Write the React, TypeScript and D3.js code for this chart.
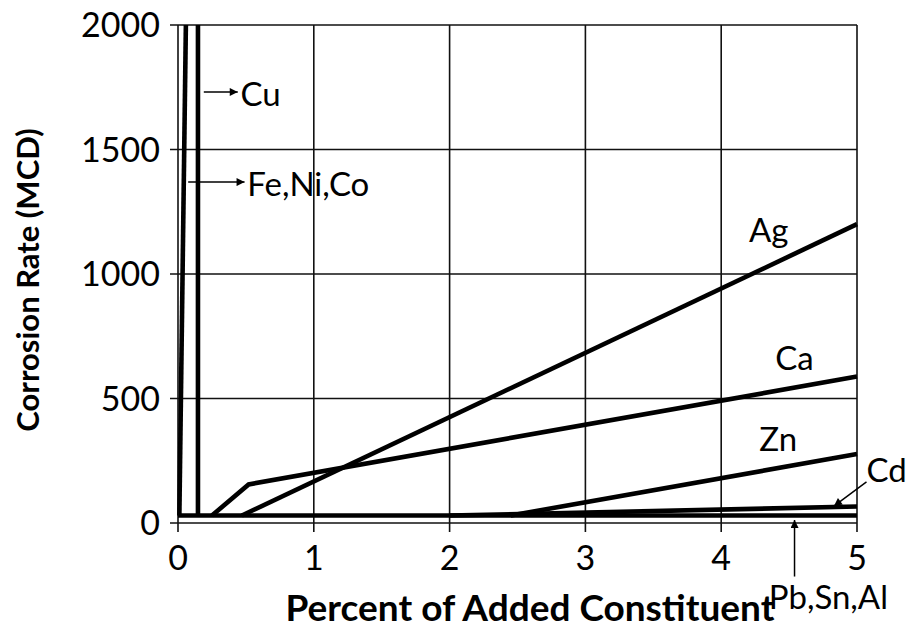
import React, { useEffect, useRef } from 'react';
import * as d3 from 'd3';

// percent added constituent vs corrosion rate (MCD)
const cuLine = [[0.147, 30], [0.147, 2000]];
const feLine = [[0.01, 30], [0.058, 2000]];
const agLine = [[0.47, 30], [5, 1200]];
const caLine = [[0.25, 30], [0.52, 155], [5, 588]];
const znLine = [[2.45, 30], [5, 277]];
const cdLine = [[2.0, 30], [5, 66]];
const pbLine = [[0, 30], [5, 30]];

const seriesList = [cuLine, feLine, agLine, caLine, znLine, cdLine, pbLine];

const xTicks = [0, 1, 2, 3, 4, 5];
const yTicks = [0, 500, 1000, 1500, 2000];

// label text with anchor point in data units
const labels = [
  { text: 'Cu', x: 0.46, y: 1722, anchor: 'start' },
  { text: 'Fe,Ni,Co', x: 0.51, y: 1362, anchor: 'start' },
  { text: 'Ag', x: 4.35, y: 1177, anchor: 'middle' },
  { text: 'Ca', x: 4.54, y: 663, anchor: 'middle' },
  { text: 'Zn', x: 4.42, y: 335, anchor: 'middle' },
  { text: 'Cd', x: 5.07, y: 213, anchor: 'start' },
  { text: 'Pb,Sn,Al', x: 4.35, y: -297, anchor: 'start' },
];

// arrows: from -> to, data units
const arrows = [
  { x1: 0.19, y1: 1731, x2: 0.44, y2: 1731 },
  { x1: 0.075, y1: 1369, x2: 0.49, y2: 1369 },
  { x1: 5.07, y1: 165, x2: 4.83, y2: 68 },
  { x1: 4.54, y1: -215, x2: 4.54, y2: 12 },
];

const App = () => {
  const ref = useRef<SVGSVGElement>(null);

  useEffect(() => {
    const svg = d3.select(ref.current);
    svg.selectAll('*').remove();

    const width = 911;
    const height = 630;
    const margin = { top: 25, right: 54, bottom: 107, left: 178 };
    const innerWidth = width - margin.left - margin.right;
    const innerHeight = height - margin.top - margin.bottom;
    const font = 'Lato, "Noto Sans", sans-serif';

    svg.attr('width', width).attr('height', height);

    svg.append('defs').append('marker')
      .attr('id', 'arrowhead')
      .attr('viewBox', '0 0 10 10')
      .attr('refX', 10)
      .attr('refY', 5)
      .attr('markerWidth', 12)
      .attr('markerHeight', 8)
      .attr('markerUnits', 'userSpaceOnUse')
      .attr('orient', 'auto')
      .append('path')
      .attr('d', 'M0,0 L10,5 L0,10 Z')
      .attr('fill', '#000');

    const chart = svg.append('g')
      .attr('transform', `translate(${margin.left},${margin.top})`);

    const x = d3.scaleLinear().domain([0, 5]).range([0, innerWidth]);
    const y = d3.scaleLinear().domain([0, 2000]).range([innerHeight, 0]);

    // grid
    chart.append('g')
      .selectAll('line')
      .data(yTicks)
      .enter()
      .append('line')
      .attr('x1', -8)
      .attr('x2', innerWidth)
      .attr('y1', d => y(d))
      .attr('y2', d => y(d))
      .attr('stroke', '#111')
      .attr('stroke-width', 1.6);

    chart.append('g')
      .selectAll('line')
      .data(xTicks)
      .enter()
      .append('line')
      .attr('x1', d => x(d))
      .attr('x2', d => x(d))
      .attr('y1', 0)
      .attr('y2', innerHeight + 9)
      .attr('stroke', '#111')
      .attr('stroke-width', 1.6);

    // tick labels
    chart.append('g')
      .selectAll('text')
      .data(yTicks)
      .enter()
      .append('text')
      .attr('x', -18)
      .attr('y', d => y(d))
      .attr('dy', '0.36em')
      .attr('text-anchor', 'end')
      .attr('font-family', font)
      .attr('font-size', 34)
      .text(d => d);

    chart.append('g')
      .selectAll('text')
      .data(xTicks)
      .enter()
      .append('text')
      .attr('x', d => x(d))
      .attr('y', innerHeight + 47)
      .attr('text-anchor', 'middle')
      .attr('font-family', font)
      .attr('font-size', 34)
      .text(d => d);

    // series
    const line = d3.line<number[]>()
      .x(d => x(d[0]))
      .y(d => y(d[1]));

    chart.append('g')
      .selectAll('path')
      .data(seriesList)
      .enter()
      .append('path')
      .attr('d', d => line(d))
      .attr('fill', 'none')
      .attr('stroke', '#000')
      .attr('stroke-width', 4.6)
      .attr('stroke-linejoin', 'miter');

    // arrows + labels
    chart.append('g')
      .selectAll('line')
      .data(arrows)
      .enter()
      .append('line')
      .attr('x1', d => x(d.x1))
      .attr('y1', d => y(d.y1))
      .attr('x2', d => x(d.x2))
      .attr('y2', d => y(d.y2))
      .attr('stroke', '#000')
      .attr('stroke-width', 1.5)
      .attr('marker-end', 'url(#arrowhead)');

    chart.append('g')
      .selectAll('text')
      .data(labels)
      .enter()
      .append('text')
      .attr('x', d => x(d.x))
      .attr('y', d => y(d.y))
      .attr('dy', '0.36em')
      .attr('text-anchor', d => d.anchor)
      .attr('font-family', font)
      .attr('font-size', 33)
      .text(d => d.text);

    // axis titles
    svg.append('text')
      .attr('x', 530)
      .attr('y', 621)
      .attr('text-anchor', 'middle')
      .attr('font-family', font)
      .attr('font-weight', 'bold')
      .attr('font-size', 37)
      .text('Percent of Added Constituent');

    svg.append('text')
      .attr('transform', 'translate(39,280) rotate(-90)')
      .attr('text-anchor', 'middle')
      .attr('font-family', font)
      .attr('font-weight', 'bold')
      .attr('font-size', 31)
      .text('Corrosion Rate (MCD)');
  }, []);

  return <svg ref={ref} style={{ position: 'absolute', left: 0, top: 0 }}></svg>;
};

export default App;
